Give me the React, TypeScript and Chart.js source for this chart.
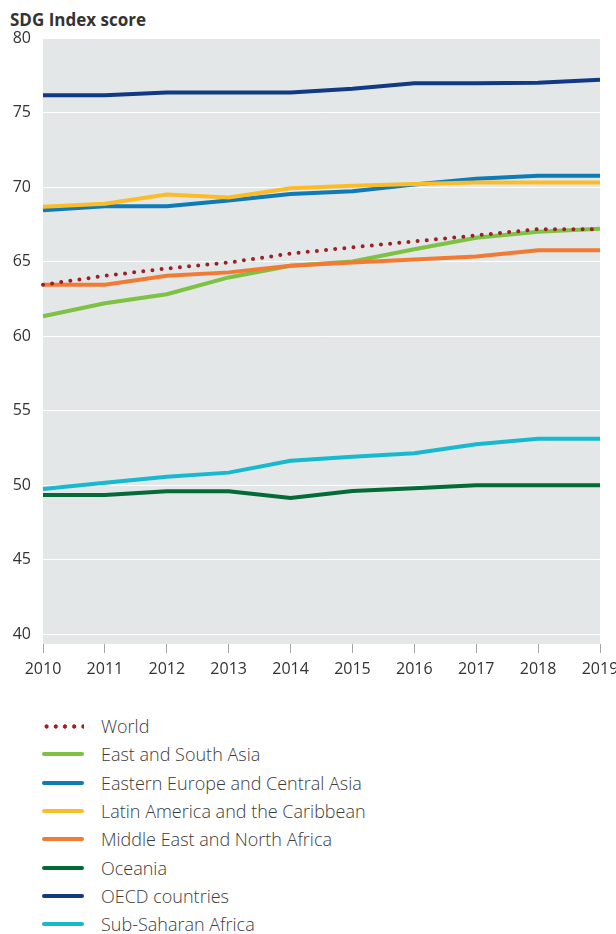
import React, { useEffect, useRef } from "react";
import { Chart, registerables } from "chart.js";

Chart.register(...registerables);

const years = ["2010", "2011", "2012", "2013", "2014", "2015", "2016", "2017", "2018", "2019"];
const yTicks = [40, 45, 50, 55, 60, 65, 70, 75, 80];

const world = [63.44, 64.04, 64.53, 64.93, 65.53, 65.95, 66.35, 66.75, 67.17, 67.17];
const eastSouthAsia = [61.33, 62.2, 62.8, 63.93, 64.71, 65.0, 65.82, 66.6, 67.0, 67.2];
const easternEurope = [68.44, 68.71, 68.71, 69.09, 69.53, 69.71, 70.17, 70.55, 70.75, 70.75];
const latinAmerica = [68.67, 68.87, 69.49, 69.29, 69.91, 70.09, 70.2, 70.31, 70.31, 70.31];
const middleEast = [63.44, 63.44, 64.04, 64.27, 64.71, 64.93, 65.13, 65.33, 65.75, 65.75];
const oceania = [49.33, 49.33, 49.58, 49.58, 49.13, 49.6, 49.78, 49.98, 49.98, 49.98];
const oecd = [76.15, 76.15, 76.35, 76.35, 76.35, 76.6, 76.97, 76.97, 77.0, 77.2];
const subSaharan = [49.73, 50.15, 50.56, 50.83, 51.63, 51.9, 52.13, 52.73, 53.1, 53.1];

const seriesLabels = [
  "World",
  "East and South Asia",
  "Eastern Europe and Central Asia",
  "Latin America and the Caribbean",
  "Middle East and North Africa",
  "Oceania",
  "OECD countries",
  "Sub-Saharan Africa",
];
const seriesData = [world, eastSouthAsia, easternEurope, latinAmerica, middleEast, oceania, oecd, subSaharan];
const seriesColors = ["#9e1f23", "#7dc242", "#0c7bb8", "#fcbc28", "#f37a32", "#046a38", "#123a84", "#17b9cf"];
const seriesOrder = [0, 2, 4, 3, 1, 5, 6, 7];

const FONT = "'Open Sans', 'Noto Sans', sans-serif";

const bgPlugin = {
  id: "plotBg",
  beforeDraw(chart: any) {
    const { ctx, chartArea } = chart;
    ctx.save();
    ctx.fillStyle = "#e3e7e8";
    ctx.fillRect(chartArea.left, chartArea.top, chartArea.right - chartArea.left, chartArea.bottom - chartArea.top);
    ctx.restore();
  },
};

export default function App() {
  const ref = useRef<HTMLCanvasElement | null>(null);

  useEffect(() => {
    if (!ref.current) return;
    const chart = new Chart(ref.current, {
      type: "line",
      data: {
        labels: years,
        datasets: seriesLabels.map((label, i) => ({
          label,
          data: seriesData[i],
          borderColor: seriesColors[i],
          backgroundColor: seriesColors[i],
          borderWidth: 4,
          pointRadius: 0,
          tension: 0,
          order: seriesOrder[i],
          borderCapStyle: i === 0 ? "round" : "butt",
          borderDash: i === 0 ? [0, 9.2] : [],
        })),
      },
      options: {
        responsive: false,
        animation: false,
        devicePixelRatio: 1,
        layout: { padding: { top: 38, right: 16, bottom: 0, left: 0 } },
        plugins: { legend: { display: false }, tooltip: { enabled: false }, title: { display: false } },
        scales: {
          x: {
            type: "category",
            offset: false,
            afterFit(scale: any) {
              scale.height = 46;
              scale.paddingLeft = 0;
              scale.paddingRight = 0;
            },
            grid: {
              drawOnChartArea: false,
              drawTicks: true,
              tickLength: 9,
              tickColor: "#a5a5a5",
              tickWidth: 1,
              offset: false,
            },
            border: { display: false },
            ticks: {
              padding: 7,
              maxRotation: 0,
              autoSkip: false,
              color: "#333333",
              font: { family: FONT, size: 16 },
            },
          },
          y: {
            min: 39.329,
            max: 80,
            afterFit(scale: any) {
              scale.width = 43;
              scale.paddingTop = 0;
              scale.paddingBottom = 0;
            },
            afterBuildTicks(scale: any) {
              scale.ticks = yTicks.map((v) => ({ value: v }));
            },
            grid: {
              color: "#ffffff",
              lineWidth: 1,
              drawTicks: false,
            },
            border: { display: false },
            ticks: {
              padding: 12,
              color: "#333333",
              font: { family: FONT, size: 16 },
            },
          },
        },
      },
      plugins: [bgPlugin],
    } as any);
    return () => chart.destroy();
  }, []);

  return (
    <div style={{ position: "absolute", left: 0, top: 0, width: 616, height: 934, background: "#fff" }}>
      <div
        style={{
          position: "absolute",
          left: 10,
          top: 8,
          fontFamily: FONT,
          fontWeight: 700,
          fontSize: 17,
          lineHeight: "24px",
          color: "#333333",
          whiteSpace: "nowrap",
        }}
      >
        SDG Index score
      </div>
      <canvas ref={ref} width={616} height={690} style={{ position: "absolute", left: 0, top: 0, width: 616, height: 690 }} />
      {seriesLabels.map((label, i) => (
        <div
          key={label}
          style={{
            position: "absolute",
            left: 42,
            top: 726 + i * 28.3 - 14,
            height: 28,
            display: "flex",
            alignItems: "center",
            whiteSpace: "nowrap",
          }}
        >
          <span
            style={
              i === 0
                ? {
                    display: "inline-block",
                    width: 42,
                    height: 5,
                    backgroundImage: `radial-gradient(circle, ${seriesColors[i]} 1.9px, rgba(0,0,0,0) 2.4px)`,
                    backgroundSize: "9.2px 5px",
                    backgroundRepeat: "repeat-x",
                  }
                : {
                    display: "inline-block",
                    width: 42,
                    height: 4,
                    borderRadius: 2,
                    background: seriesColors[i],
                  }
            }
          />
          <span
            style={{
              marginLeft: 17,
              fontFamily: FONT,
              fontWeight: 300,
              fontSize: 18,
              color: "#3b3b3b",
            }}
          >
            {label}
          </span>
        </div>
      ))}
    </div>
  );
}
